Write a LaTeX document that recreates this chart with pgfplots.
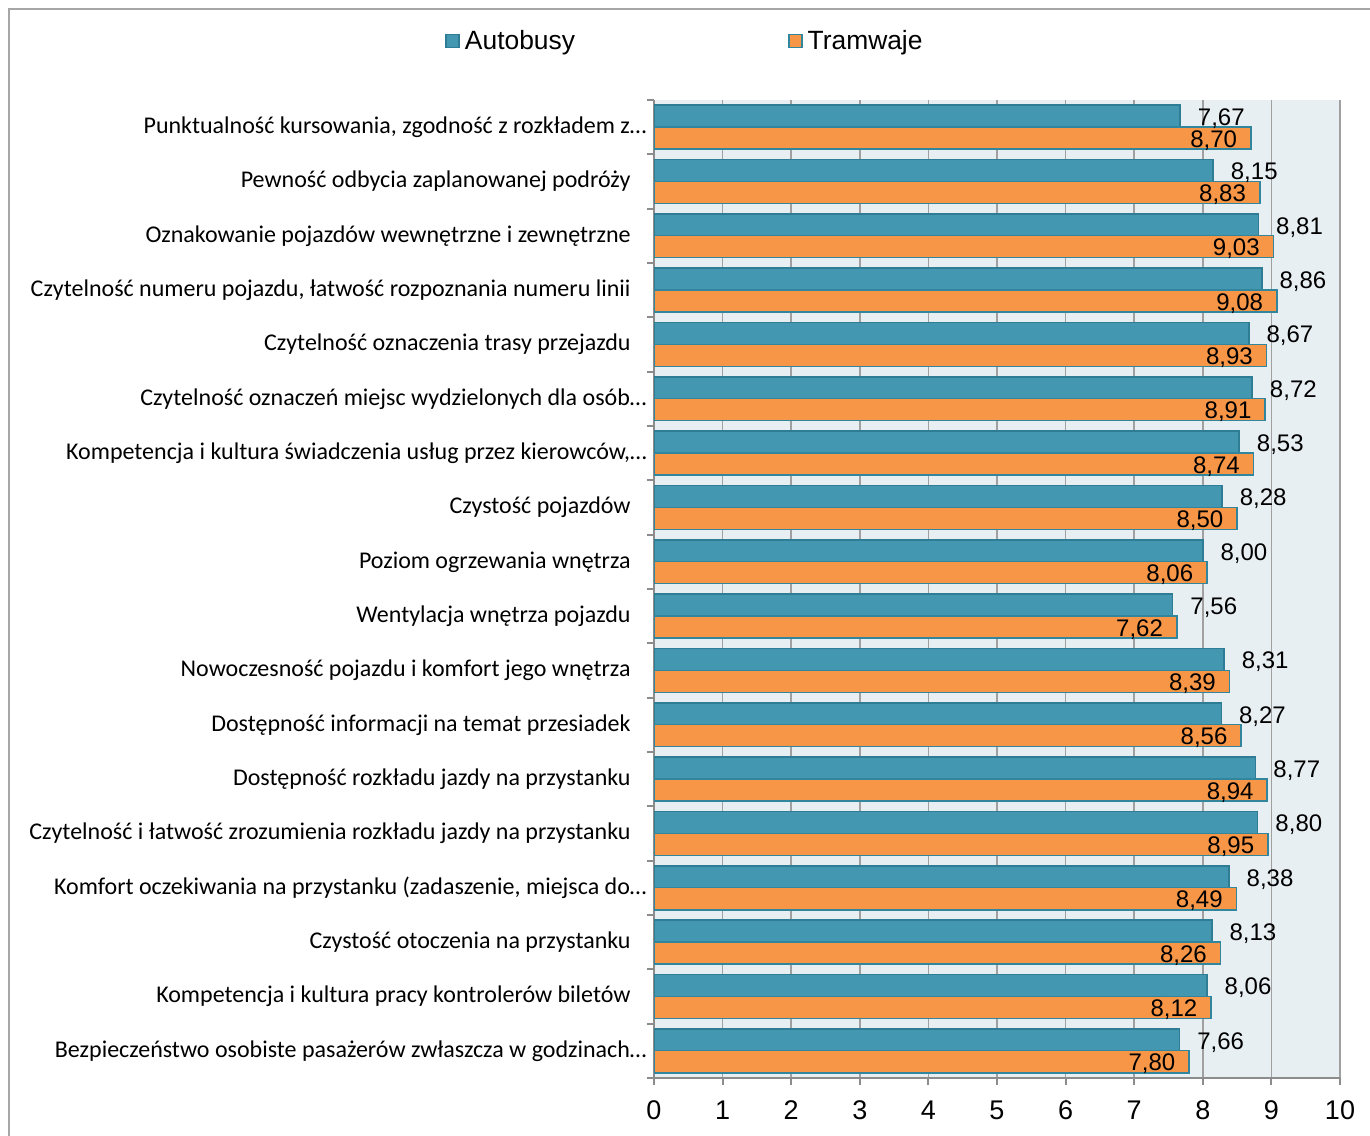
\documentclass[border=0pt]{standalone}
\usepackage{fontspec}
\setmainfont{Liberation Sans}
\newfontfamily\calfont{Carlito}
\usepackage{pgfplots}
\usepackage{pgfplotstable}
\pgfplotsset{compat=1.18}
\pgfplotsset{/pgf/number format/assume math mode=true}
\definecolor{busfill}{HTML}{4397B0}
\definecolor{busdraw}{HTML}{2E7D95}
\definecolor{tramfill}{HTML}{F79646}
\definecolor{tramdraw}{HTML}{31859C}
\definecolor{bgc}{HTML}{E8EFF3}
\definecolor{gridc}{HTML}{A0A0A0}
\definecolor{axc}{HTML}{8C8C8C}
\definecolor{framec}{HTML}{A6A6A6}
\newcommand{\tr}{\kern-8bp}

\pgfplotstableread{
y v
17.2 7.67
16.2 8.15
15.2 8.81
14.2 8.86
13.2 8.67
12.2 8.72
11.2 8.53
10.2 8.28
9.2 8.00
8.2 7.56
7.2 8.31
6.2 8.27
5.2 8.77
4.2 8.80
3.2 8.38
2.2 8.13
1.2 8.06
0.2 7.66
}\bus

\pgfplotstableread{
y v
16.8 8.70
15.8 8.83
14.8 9.03
13.8 9.08
12.8 8.93
11.8 8.91
10.8 8.74
9.8 8.50
8.8 8.06
7.8 7.62
6.8 8.39
5.8 8.56
4.8 8.94
3.8 8.95
2.8 8.49
1.8 8.26
0.8 8.12
-0.2 7.80
}\tram

\begin{document}
\begin{tikzpicture}
\useasboundingbox (0,0) rectangle (685bp,568bp);
\draw[framec, line width=1bp] (4.5bp,0) -- (4.5bp,563.5bp) -- (685bp,563.5bp);
\begin{axis}[
  at={(327bp,29bp)}, anchor=south west,
  scale only axis, width=343bp, height=489bp,
  xmin=0, xmax=10, ymin=-0.5, ymax=17.5,
  axis background/.style={fill=bgc},
  axis lines*=left,
  axis line style={axc, line width=1bp, -},
  xmajorgrids, grid style={gridc, line width=0.8bp},
  tick align=outside, major tick length=3.5bp,
  tick style={axc, line width=1bp},
  xtick={0,...,10},
  xticklabel style={font=\fontsize{13.5bp}{15bp}\selectfont, yshift=-4.5bp},
  ytick={-0.5,0.5,...,17.5}, yticklabels={},
  extra y ticks={0,...,17},
  extra y tick style={major tick length=0pt, grid=none},
  extra y tick labels={
    {Bezpieczeństwo osobiste pasażerów zwłaszcza w godzinach…\tr},
    {Kompetencja i kultura pracy kontrolerów biletów},
    {Czystość otoczenia na przystanku},
    {Komfort oczekiwania na przystanku (zadaszenie, miejsca do…\tr},
    {Czytelność i łatwość zrozumienia rozkładu jazdy na przystanku},
    {Dostępność rozkładu jazdy na przystanku},
    {Dostępność informacji na temat przesiadek},
    {Nowoczesność pojazdu i komfort jego wnętrza},
    {Wentylacja wnętrza pojazdu},
    {Poziom ogrzewania wnętrza},
    {Czystość pojazdów},
    {Kompetencja i kultura świadczenia usług przez kierowców,…\tr},
    {Czytelność oznaczeń miejsc wydzielonych dla osób…\tr},
    {Czytelność oznaczenia trasy przejazdu},
    {Czytelność numeru pojazdu, łatwość rozpoznania numeru linii},
    {Oznakowanie pojazdów wewnętrzne i zewnętrzne},
    {Pewność odbycia zaplanowanej podróży},
    {Punktualność kursowania, zgodność z rozkładem z…\tr}},
  yticklabel style={font=\calfont\fontsize{12bp}{14bp}\selectfont, inner sep=0pt, xshift=-11.5bp},
  legend columns=2,
  legend style={at={(axis description cs:-0.3047,1.0603)}, anchor=west,
    draw=none, fill=none, inner sep=0pt,
    font=\fontsize{13.2bp}{15bp}\selectfont,
    nodes={inner sep=1.5bp},
    /tikz/every odd column/.append style={column sep=1bp},
    /tikz/every even column/.append style={column sep=105bp}},
]
\addplot[xbar, bar width=0.405, bar shift=0pt,
  fill=busfill, draw=busdraw, line width=0.8bp,
  point meta=x,
  nodes near coords={\pgfmathprintnumber[fixed,fixed zerofill,precision=2,use comma]{\pgfplotspointmeta}},
  nodes near coords style={anchor=west, inner sep=0pt, xshift=8.5bp, yshift=-1.2bp, text=black,
    font=\fontsize{12bp}{14bp}\selectfont},
  legend image code/.code={\draw[fill=busfill, draw=busdraw, line width=0.8bp] (0bp,-3.25bp) rectangle (6.5bp,3.25bp);}
] table[x=v, y=y] {\bus};
\addlegendentry{Autobusy}
\addplot[xbar, bar width=0.405, bar shift=0pt,
  fill=tramfill, draw=tramdraw, line width=0.8bp,
  point meta=x,
  nodes near coords={\pgfmathprintnumber[fixed,fixed zerofill,precision=2,use comma]{\pgfplotspointmeta}},
  nodes near coords style={anchor=east, inner sep=0pt, xshift=-6.5bp, yshift=-1.2bp, text=black,
    font=\fontsize{12bp}{14bp}\selectfont},
  legend image code/.code={\draw[fill=tramfill, draw=tramdraw, line width=0.8bp] (0bp,-3.25bp) rectangle (6.5bp,3.25bp);}
] table[x=v, y=y] {\tram};
\addlegendentry{Tramwaje}
\end{axis}
\end{tikzpicture}
\end{document}
